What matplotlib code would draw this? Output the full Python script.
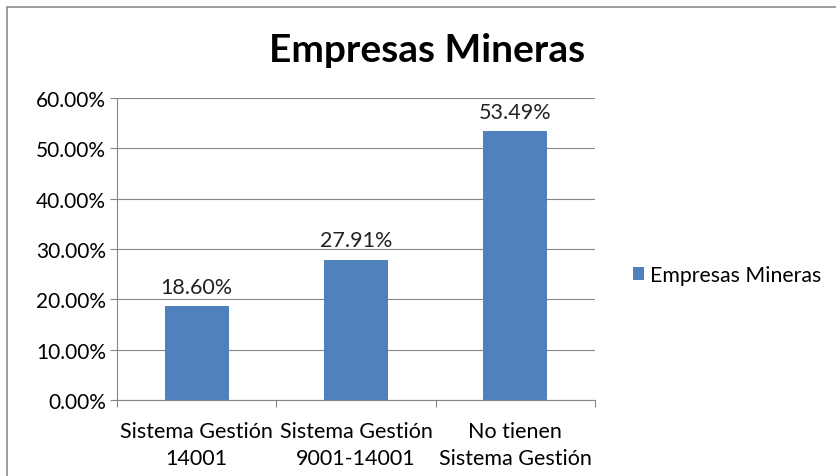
import matplotlib
matplotlib.use("Agg")
import matplotlib.pyplot as plt
from matplotlib.patches import Rectangle

categorias = ["Sistema Gestión\n14001", "Sistema Gestión\n9001-14001", "No tienen\nSistema Gestión"]
valores = [18.60, 27.91, 53.49]
serie = "Empresas Mineras"
titulo = "Empresas Mineras"

plt.rcParams['font.family'] = ['Lato', 'DejaVu Sans']

fig = plt.figure(figsize=(8.36, 4.77), dpi=100)
# outer chart frame
fig.patches.append(Rectangle((7/836, -0.05), 1.0, 1 - 8/477 + 0.05, transform=fig.transFigure,
                             fill=False, edgecolor="#8c8c8c", linewidth=1.2))

ax = fig.add_axes([117/836, 1 - 401/477, 478/836, 302/477])
x = range(len(valores))
bars = ax.bar(x, valores, width=0.4, color="#4f81bd", label=serie, zorder=3)
for b, v in zip(bars, valores):
    ax.text(b.get_x() + b.get_width()/2, v + 1.8, f"{v:.2f}%", ha="center", va="bottom",
            fontsize=15.5, color="#222222")

ax.set_xlim(-0.5, 2.5)
ax.set_ylim(0, 60)
ax.set_yticks(range(0, 61, 10))
ax.set_yticklabels([f"{t:.2f}%" for t in range(0, 61, 10)], fontsize=15)
ax.set_xticks([-0.5, 0.5, 1.5, 2.5], minor=False)
ax.set_xticklabels([])
ax.set_xticks(list(x), minor=True)
ax.set_xticklabels(categorias, minor=True, fontsize=15.5, linespacing=1.45)
ax.tick_params(axis="x", which="minor", length=0, pad=15)
ax.tick_params(axis="x", which="major", length=5, color="#868686")
ax.tick_params(axis="y", length=5, color="#868686", pad=3)
ax.grid(axis="y", color="#868686", linewidth=0.8, zorder=0)
for s in ["top", "right"]:
    ax.spines[s].set_visible(False)
ax.spines["left"].set_color("#868686")
ax.spines["bottom"].set_color("#868686")

fig.text(427/836, 1 - 50/477, titulo, ha="center", va="center", fontsize=28, fontweight="bold")
fig.legend(loc="center left", bbox_to_anchor=(633/836, 1 - 276/477), frameon=False,
           fontsize=15.3, handlelength=0.5, handleheight=0.5, handletextpad=0.3,
           borderpad=0, borderaxespad=0)

fig.savefig("out.png", dpi=100)
